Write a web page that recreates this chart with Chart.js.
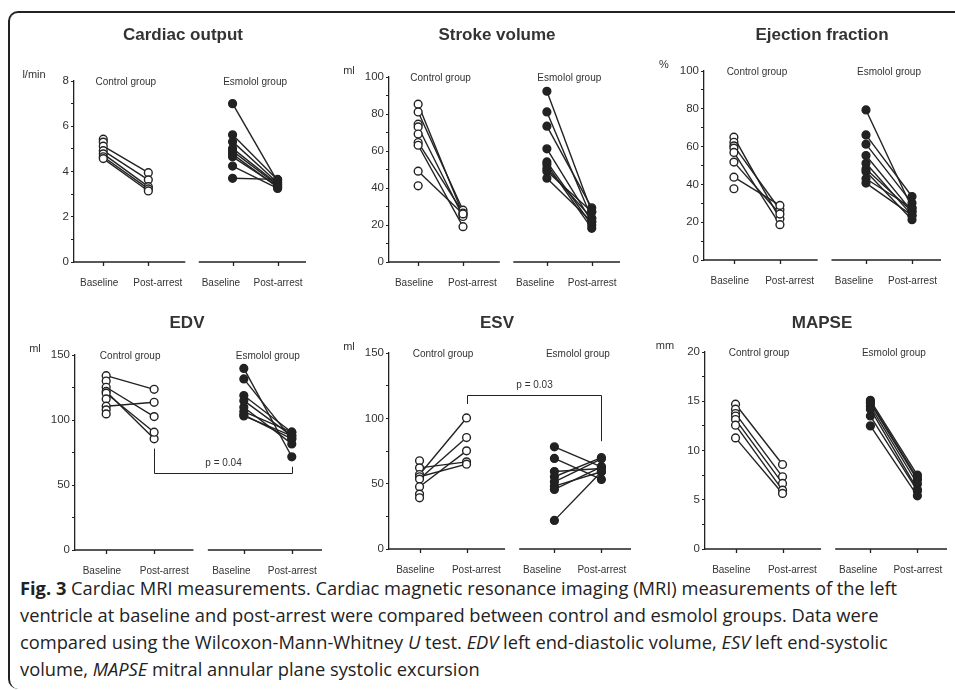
<!DOCTYPE html>
<html lang="en">
<head>
<meta charset="UTF-8">
<title>Fig. 3 Cardiac MRI measurements</title>
<script src="https://cdn.jsdelivr.net/npm/chart.js@4"></script>
<style>
    body {
        margin: 0;
        width: 955px;
        height: 690px;
        position: relative;
        overflow: hidden;
        background: #fff;
        font-family: "Liberation Sans", Arial, sans-serif;
    }
    .frame {
        position: absolute;
        left: 8px;
        top: 11px;
        width: 980px;
        height: 676px;
        border-left: 2px solid #222;
        border-top: 2px solid #222;
        border-radius: 10px 0 0 10px;
    }
    canvas {
        position: absolute;
    }
    .caption {
        position: absolute;
        left: 20px;
        top: 574px;
        font-family: "Open Sans", sans-serif;
        font-size: 18.3px;
        line-height: 27px;
        color: #222;
        white-space: nowrap;
    }
</style>
</head>
<body>
<div class="frame"></div>
<div class="caption">
    <b>Fig. 3</b> Cardiac MRI measurements. Cardiac magnetic resonance imaging (MRI) measurements of the left<br>
    ventricle at baseline and post-arrest were compared between control and esmolol groups. Data were<br>
    compared using the Wilcoxon-Mann-Whitney <i>U</i> test. <i>EDV</i> left end-diastolic volume, <i>ESV</i> left end-systolic<br>
    volume, <i>MAPSE</i> mitral annular plane systolic excursion
</div>

<script>
    // shared axis stuff
    const xLabels = ['Baseline', 'Post-arrest', 'Baseline', 'Post-arrest'];
    const xTickPos = [0, 1, 2.87, 3.87];        // where the points sit
    const xLabelPos = [-0.09, 1.21, 2.61, 3.88]; // where the labels sit
    const groupNames = ['Control group', 'Esmolol group'];

    // cardiac output (l/min)
    const coCtrlBase = [5.43, 5.30, 5.12, 4.92, 4.78, 4.65, 4.57];
    const coCtrlPost = [null, null, 3.95, 3.63, 3.33, 3.23, 3.14];
    const coEsmBase = [7.00, 5.62, 5.32, 5.02, 4.90, 4.77, 4.65, 4.24, 3.70];
    const coEsmPost = [3.55, 3.62, 3.50, 3.45, 3.40, 3.30, 3.35, 3.25, 3.65];

    // stroke volume (ml)
    const svCtrlBase = [85.3, 81.1, 74.5, 73.0, 69.2, 64.6, 63.1, 49.1, 41.2];
    const svCtrlPost = [25.7, 28.0, null, 24.6, null, 26.5, 19.1, 26.0, null];
    const svEsmBase = [92.3, 81.1, 73.4, 61.2, 54.1, 52.7, 50.5, 49.1, 45.3];
    const svEsmPost = [27.2, 23.6, 29.3, 21.8, 20.0, 18.2, 23.6, 27.2, 21.8];

    // ejection fraction (%)
    const efCtrlBase = [65.0, 62.3, 60.4, 59.2, 56.9, 51.8, 43.8, 37.7];
    const efCtrlPost = [21.8, null, 26.6, null, 18.7, 24.3, 28.9, null];
    const efEsmBase = [79.4, 66.2, 61.3, 55.3, 51.2, 48.1, 46.8, 43.0, 40.7];
    const efEsmPost = [27.5, 33.6, 30.1, 25.7, 23.6, 25.7, 21.3, 27.5, 23.6];

    // EDV (ml)
    const edvCtrlBase = [134.1, 130.0, 125.2, 122.0, 120.6, 116.2, 110.6, 107.8, 104.7];
    const edvCtrlPost = [123.6, null, 102.6, 85.5, 90.6, null, 113.6, null, null];
    const edvEsmBase = [139.7, 131.6, 118.8, 114.9, 109.8, 106.5, 104.0, 103.1];
    const edvEsmPost = [71.7, 85.5, 90.6, 87.8, 81.6, 90.6, 85.5, 87.8];

    // ESV (ml)
    const esvCtrlBase = [67.5, 62.1, 57.0, 55.3, 53.5, 47.6, 42.0, 39.2];
    const esvCtrlPost = [null, 66.7, 100.3, 64.9, 85.3, 75.1, null, null];
    const esvEsmBase = [78.2, 69.3, 59.3, 55.3, 51.4, 48.1, 45.6, 21.9];
    const esvEsmPost = [62.9, 53.2, 61.6, 70.0, 69.0, 59.1, 62.9, 59.1];

    // MAPSE (mm)
    const mapseCtrlBase = [14.7, 14.2, 13.75, 13.5, 13.14, 12.57, 11.28];
    const mapseCtrlPost = [8.58, null, 7.33, null, 6.66, 5.98, 5.64];
    const mapseEsmBase = [15.1, 14.9, 14.8, 14.5, 14.2, 13.5, 12.5];
    const mapseEsmPost = [7.5, 7.2, 7.0, 6.6, 6.05, 5.9, 5.4];

    const panels = [
        {title: 'Cardiac output', unit: 'l/min', cb: coCtrlBase, cp: coCtrlPost, eb: coEsmBase, ep: coEsmPost,
            yMax: 8, yStep: 1, yLabelStep: 2, area: {l: 74, t: 81, r: 306, b: 262}, titleX: 183, titleY: 35},
        {title: 'Stroke volume', unit: 'ml', cb: svCtrlBase, cp: svCtrlPost, eb: svEsmBase, ep: svEsmPost,
            yMax: 100, yStep: 10, yLabelStep: 20, area: {l: 389, t: 77, r: 620, b: 262}, titleX: 497, titleY: 35},
        {title: 'Ejection fraction', unit: '%', cb: efCtrlBase, cp: efCtrlPost, eb: efEsmBase, ep: efEsmPost,
            yMax: 100, yStep: 10, yLabelStep: 20, area: {l: 704, t: 71, r: 941, b: 260}, titleX: 822, titleY: 35},
        {title: 'EDV', unit: 'ml', cb: edvCtrlBase, cp: edvCtrlPost, eb: edvEsmBase, ep: edvEsmPost,
            yMax: 150, yStep: 25, yLabelStep: 50, area: {l: 75, t: 355, r: 322, b: 550}, titleX: 187, titleY: 323,
            bracket: {y1: 78, yBar: 59.6, y2: 64, label: 'p = 0.04', labelY: 67}},
        {title: 'ESV', unit: 'ml', cb: esvCtrlBase, cp: esvCtrlPost, eb: esvEsmBase, ep: esvEsmPost,
            yMax: 150, yStep: 25, yLabelStep: 50, area: {l: 389, t: 353, r: 631, b: 549}, titleX: 497, titleY: 323,
            bracket: {y1: 111, yBar: 117.6, y2: 82.5, label: 'p = 0.03', labelY: 125}},
        {title: 'MAPSE', unit: 'mm', cb: mapseCtrlBase, cp: mapseCtrlPost, eb: mapseEsmBase, ep: mapseEsmPost,
            yMax: 20, yStep: 2.5, yLabelStep: 5, area: {l: 705, t: 352, r: 947, b: 549}, titleX: 822, titleY: 323}
    ];

    const ink = '#222';
    const textCol = '#333';
    const fam = '"Liberation Sans", Arial, sans-serif';

    // broken x axis, its tick marks, group names, title, unit and p bracket
    const decoPlugin = {
        id: 'deco',
        afterDraw(chart, args, o) {
            const {ctx, chartArea, scales} = chart;
            const x = scales.x, y = scales.y;
            const yb = chartArea.bottom;
            ctx.save();
            ctx.strokeStyle = ink;
            ctx.lineWidth = 1.3;
            ctx.beginPath();
            ctx.moveTo(x.getPixelForValue(x.min), yb);
            ctx.lineTo(x.getPixelForValue(1.82), yb);
            ctx.moveTo(x.getPixelForValue(2.12), yb);
            ctx.lineTo(x.getPixelForValue(x.max), yb);
            xTickPos.forEach(v => {
                const px = Math.round(x.getPixelForValue(v)) + 0.5;
                ctx.moveTo(px, yb);
                ctx.lineTo(px, yb + 4);
            });
            ctx.stroke();

            ctx.fillStyle = textCol;
            ctx.textAlign = 'center';
            ctx.textBaseline = 'middle';
            ctx.font = '10px ' + fam;
            ctx.fillText(groupNames[0], (x.getPixelForValue(xTickPos[0]) + x.getPixelForValue(xTickPos[1])) / 2, chartArea.top + 1);
            ctx.fillText(groupNames[1], (x.getPixelForValue(xTickPos[2]) + x.getPixelForValue(xTickPos[3])) / 2, chartArea.top + 1);

            ctx.font = '11px ' + fam;
            ctx.fillText(o.unit, chartArea.left - 40, chartArea.top - 6);

            ctx.font = 'bold 17px ' + fam;
            ctx.fillText(o.title, o.titleX, o.titleY);

            const br = o.bracket;
            if (br) {
                const xa = Math.round(x.getPixelForValue(xTickPos[1])) + 0.5;
                const xb = Math.round(x.getPixelForValue(xTickPos[3])) + 0.5;
                ctx.lineWidth = 1;
                ctx.beginPath();
                ctx.moveTo(xa, y.getPixelForValue(br.y1));
                ctx.lineTo(xa, Math.round(y.getPixelForValue(br.yBar)) + 0.5);
                ctx.lineTo(xb, Math.round(y.getPixelForValue(br.yBar)) + 0.5);
                ctx.lineTo(xb, y.getPixelForValue(br.y2));
                ctx.stroke();
                ctx.font = '10px ' + fam;
                ctx.fillText(br.label, (xa + xb) / 2, y.getPixelForValue(br.labelY));
            }
            ctx.restore();
        }
    };

    function buildDatasets(base, post, xb, xp, filled) {
        const sets = [];
        const pts = [];
        base.forEach((b, i) => {
            pts.push({x: xb, y: b});
            if (post[i] != null) {
                pts.push({x: xp, y: post[i]});
                sets.push({
                    data: [{x: xb, y: b}, {x: xp, y: post[i]}],
                    showLine: true,
                    borderColor: ink,
                    borderWidth: 1.4,
                    pointRadius: 0,
                    order: 2
                });
            }
        });
        sets.push({
            data: pts,
            showLine: false,
            pointRadius: 3.9,
            pointBorderWidth: 1.4,
            pointBorderColor: ink,
            pointBackgroundColor: filled ? ink : '#fff',
            order: 1
        });
        return sets;
    }

    panels.forEach(p => {
        const a = p.area;
        const cv = document.createElement('canvas');
        const left = a.l - 70, top = a.t - 75;
        const w = a.r - left + 8, h = a.b - top + 42;
        cv.width = w;
        cv.height = h;
        cv.style.left = left + 'px';
        cv.style.top = top + 'px';
        document.body.appendChild(cv);

        const datasets = buildDatasets(p.cb, p.cp, xTickPos[0], xTickPos[1], false)
            .concat(buildDatasets(p.eb, p.ep, xTickPos[2], xTickPos[3], true));

        new Chart(cv, {
            type: 'scatter',
            data: {datasets: datasets},
            options: {
                responsive: false,
                animation: false,
                layout: {padding: {left: 40, top: 75, right: 8, bottom: 12}},
                plugins: {
                    legend: {display: false},
                    tooltip: {enabled: false},
                    deco: {
                        title: p.title, unit: p.unit, bracket: p.bracket,
                        titleX: p.titleX - left, titleY: p.titleY - top
                    }
                },
                scales: {
                    x: {
                        type: 'linear',
                        min: -0.65,
                        max: 4.5,
                        afterBuildTicks: s => { s.ticks = xLabelPos.map(v => ({value: v})); },
                        afterFit: s => { s.height = 30; },
                        border: {display: false},
                        grid: {display: false},
                        ticks: {
                            autoSkip: false,
                            maxRotation: 0,
                            padding: 7,
                            color: textCol,
                            font: {family: fam, size: 10},
                            callback: (v, i) => xLabels[i]
                        }
                    },
                    y: {
                        min: 0,
                        max: p.yMax,
                        afterFit: s => { s.width = 30; },
                        border: {display: true, color: ink, width: 1.3},
                        grid: {display: true, drawOnChartArea: false, drawTicks: true, tickLength: 3, color: ink},
                        ticks: {
                            stepSize: p.yStep,
                            autoSkip: false,
                            padding: 2,
                            color: textCol,
                            font: {family: fam, size: 11.5},
                            callback: v => (Math.abs(v / p.yLabelStep - Math.round(v / p.yLabelStep)) < 1e-6 ? v : '')
                        }
                    }
                }
            },
            plugins: [decoPlugin]
        });
    });
</script>
</body>
</html>
